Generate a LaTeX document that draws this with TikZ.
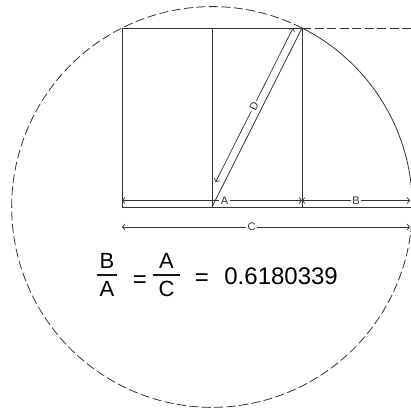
\documentclass[tikz,border=0pt]{standalone}
\usepackage{fontspec}
\setmainfont{Liberation Sans}
\usetikzlibrary{positioning,arrows.meta}

\tikzset{
    dimline/.style={line width=.7pt,
        {Straight Barb[length=2.5pt,width=6pt]}-{Straight Barb[length=2.5pt,width=6pt]}},
    dimlabel/.style={fill=white, inner sep=1.5pt, text=black!80,
        font=\fontsize{11}{11}\selectfont},
    circdash/.style={dash pattern=on 9pt off 3.5pt},
    frac/.style={anchor=base, inner sep=0pt, font=\fontsize{22}{22}\selectfont},
    eqsign/.style={anchor=base, inner sep=0pt, font=\fontsize{24}{24}\selectfont},
    fracbar/.style={line width=1.4pt, draw=black!90}
}

\begin{document}
\begin{tikzpicture}[x=1pt,y=1pt,line width=.8pt,draw=black!80]
    \useasboundingbox (0,0) rectangle (410,412);

    % square split in half, diagonal from the midpoint
    \coordinate (m) at (212,205);
    \coordinate [left=90pt of m] (bl);
    \coordinate [right=90pt of m] (br);
    \coordinate [above=179pt of bl] (tl);
    \coordinate [above=179pt of m] (tm);
    \coordinate [above=179pt of br] (tr);
    \coordinate [right=200.35pt of m] (gb);
    \coordinate [above=179pt of gb] (gt);

    \draw (bl) rectangle (tr);
    \draw (m) -- (tm);
    \draw (m) -- (tr);
    \draw (br) -- (gb);
    \draw[circdash] (tr) -- (gt);

    % circle through the corner
    \draw (tr) arc[start angle=63.31, end angle=0, radius=200.35];
    \draw[circdash] (tr) arc[start angle=63.31, end angle=360, radius=200.35];

    % dimensions
    \coordinate [above=6.5pt of bl] (a1);
    \coordinate [above=6.5pt of br] (a2);
    \coordinate [right=108pt of a2] (b2);
    \coordinate [below=20pt of bl] (c1);
    \coordinate [right=288pt of c1] (c2);
    \draw[dimline] (a1) -- (a2) node[dimlabel,pos=.57] {A};
    \draw[dimline] (a2) -- (b2) node[dimlabel,midway] {B};
    \draw[dimline] (c1) -- (c2) node[dimlabel,pos=.45] {C};

    \coordinate [above left=3.6pt and 7.15pt of m] (dm);
    \coordinate [above left=3.6pt and 7.15pt of tr] (dt);
    \draw[dimline,shorten <=24pt,shorten >=4pt] (dm) -- (dt)
        node[dimlabel,sloped,pos=.545] {D};

    % the ratio
    \node[frac,minimum width=20pt] (numB) at (107,143) {B};
    \node[frac,minimum width=20pt] (denA) at (107,115) {A};
    \draw[fracbar] ([yshift=-6pt]numB.base west) -- ([yshift=-6pt]numB.base east);
    \node[eqsign] (eq1) at (140,124) {=};
    \node[frac,minimum width=27pt] (numA) at (166.5,143) {A};
    \node[frac,minimum width=27pt] (denC) at (166.5,115) {C};
    \draw[fracbar] ([yshift=-6pt]numA.base west) -- ([yshift=-6pt]numA.base east);
    \node[eqsign] (eq2) at (202,126) {=};
    \node[eqsign,anchor=base west] (ratio) at (224,127) {0.6180339};
\end{tikzpicture}
\end{document}
